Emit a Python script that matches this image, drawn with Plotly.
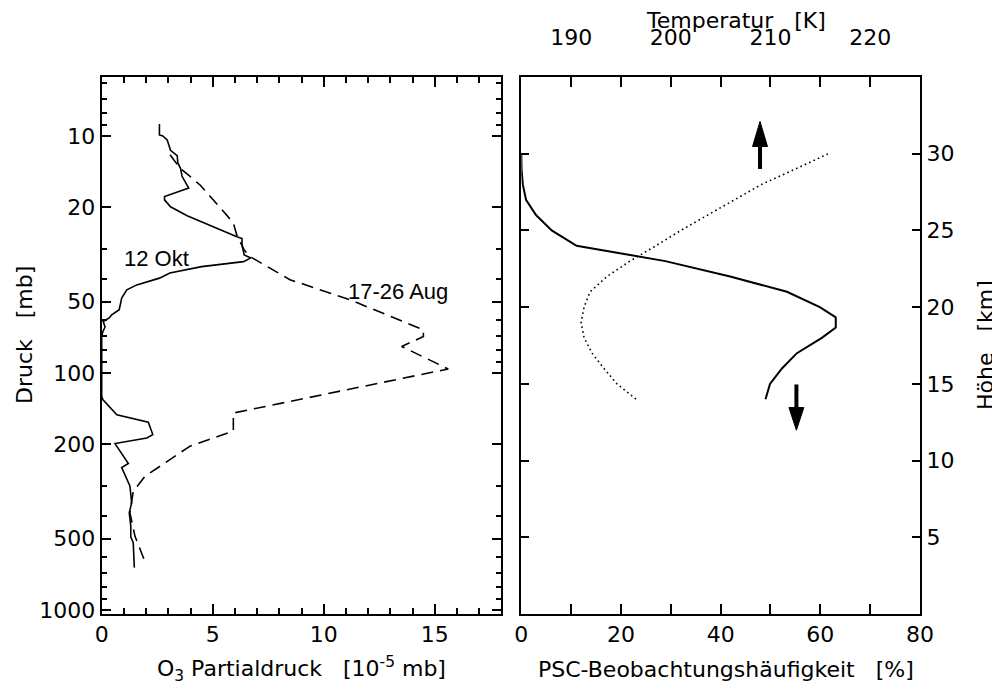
import numpy as np
import plotly.graph_objects as go

# ---------------- data ----------------
# Left panel: O3 partial pressure [1e-5 mb] versus pressure [mb]
okt_o3 = [2.6, 2.6, 2.75, 2.95, 3.1, 3.4, 3.43, 3.55, 3.62, 3.92,
          2.83, 2.83, 3.1, 3.85, 6.09, 6.32, 6.32, 6.42, 6.72, 6.39,
          4.5, 3.07, 2.6, 1.58, 1.13, 0.9, 0.79, 0.45, 0.35, 0.07,
          0.15, 0.05, 0.0, 0.0, 0.05, 0.68, 2.10, 2.30, 2.03, 0.6,
          1.2, 0.9, 1.27, 1.35, 1.24, 1.31, 1.31, 1.42, 1.47]
okt_p = [8.9, 9.9, 10.0, 10.4, 11.5, 12.1, 13.0, 13.7, 14.8, 16.6,
         18.0, 18.6, 19.9, 21.7, 26.6, 27.1, 28.8, 31.8, 32.7, 33.9,
         35.6, 37.9, 39.8, 42.5, 44.6, 48.3, 54.1, 56.8, 58.5, 60.7,
         64, 67, 70, 125, 129.6, 150, 161.5, 182, 188, 198.6,
         241, 251, 300, 353, 389, 443, 491, 520, 663]

aug_o3 = [3.08, 3.53, 3.9, 4.43, 5.48, 5.93, 6.08, 6.41, 6.68, 8.48,
          11.18, 14.49, 14.49, 13.51, 15.61, 5.93, 5.93, 3.98, 1.95, 1.42,
          1.27, 1.5, 1.91]
aug_p = [12.0, 13.7, 14.6, 16.1, 20.8, 23.3, 26.1, 30.2, 32.3, 40.4,
         49.1, 65.8, 70.2, 77.3, 96.2, 147.6, 176, 203.6, 273, 316,
         389, 489, 612]

# Right panel: PSC observation frequency [%] and temperature [K] versus height [km]
psc_height = [14, 15, 16, 17, 18, 18.67, 19.33, 20, 21, 22, 23, 24, 25, 26, 27, 28, 29, 30]
psc_freq = [49.0, 49.9, 52.3, 55.3, 60.3, 63.1, 63.1, 59.9, 53.3, 41.9,
            28.9, 11.1, 6.1, 2.95, 0.95, 0.3, 0.05, 0.0]

temp_height = [14, 15, 16, 17, 18, 19, 20, 21, 22, 23, 24, 25, 26, 27, 28, 29, 30]
temp_K = [196.5, 194.6, 193.3, 192.1, 191.3, 191.0, 191.3, 191.9, 193.6, 195.9,
          198.5, 201.0, 203.7, 206.4, 209.1, 212.5, 215.8]

p_ticks = [10, 20, 50, 100, 200, 500, 1000]
p_minor = [6, 7, 8, 9, 30, 40, 60, 70, 80, 90, 300, 400, 600, 700, 800, 900]
o3_ticks = [0, 5, 10, 15]
psc_ticks = [0, 20, 40, 60, 80]
temp_ticks = [190, 200, 210, 220]
height_ticks = [5, 10, 15, 20, 25, 30]

# ---------------- figure ----------------
AXFONT = "DejaVu Sans, Liberation Sans, Arial, sans-serif"
LABFONT = "Liberation Sans, Arial, sans-serif"
OFF = 8                      # page body margin of the html page
W, H = 1000 - OFF, 687 - OFF


def fx(px):                  # page pixel -> paper fraction (x)
    return (px - OFF) / W


def fy(py):                  # page pixel -> paper fraction (y)
    return 1 - (py - OFF) / H


fig = go.Figure()

fig.add_trace(go.Scatter(x=okt_o3, y=okt_p, mode="lines",
                         line=dict(color="black", width=1.6),
                         xaxis="x", yaxis="y", showlegend=False))
fig.add_trace(go.Scatter(x=aug_o3, y=aug_p, mode="lines",
                         line=dict(color="black", width=1.6, dash="12px,7px"),
                         xaxis="x", yaxis="y", showlegend=False))
fig.add_trace(go.Scatter(x=psc_freq, y=psc_height, mode="lines",
                         line=dict(color="black", width=2),
                         xaxis="x2", yaxis="y2", showlegend=False))
fig.add_trace(go.Scatter(x=temp_K, y=temp_height, mode="lines",
                         line=dict(color="black", width=1.6, dash="1.6px,3.2px"),
                         xaxis="x3", yaxis="y2", showlegend=False))

ydom = [fy(614), fy(77)]
tickfont = dict(family=AXFONT, size=22, color="black")
common = dict(showline=True, linecolor="black", linewidth=2, ticks="inside",
              tickcolor="black", tickwidth=1.6, showgrid=False, zeroline=False,
              tickfont=tickfont, automargin=False)

fig.update_layout(
    width=W, height=H,
    margin=dict(l=0, r=0, t=0, b=0, autoexpand=False),
    paper_bgcolor="white", plot_bgcolor="white",
    xaxis=dict(domain=[fx(101.7), fx(501.3)], range=[0, 18], anchor="y",
               tickmode="array", tickvals=o3_ticks, ticklen=10, mirror="ticks",
               minor=dict(dtick=1, ticks="inside", ticklen=6, tickcolor="black", tickwidth=1.6),
               **common),
    yaxis=dict(domain=ydom, type="log", range=[np.log10(1040), np.log10(5.64)], anchor="x",
               tickmode="array", tickvals=p_ticks, ticktext=[str(v) for v in p_ticks],
               ticklen=9, mirror="ticks",
               minor=dict(tickmode="array", tickvals=p_minor, ticks="inside", ticklen=5,
                          tickcolor="black", tickwidth=1.6),
               **common),
    xaxis2=dict(domain=[fx(521.3), fx(920)], range=[0, 80], anchor="y2",
                tickmode="array", tickvals=psc_ticks, ticklen=10,
                minor=dict(dtick=10, ticks="inside", ticklen=10, tickcolor="black", tickwidth=1.6),
                **common),
    xaxis3=dict(range=[185, 225], overlaying="x2", side="top", anchor="y2",
                tickmode="array", tickvals=temp_ticks, ticklen=10, ticklabelstandoff=21,
                minor=dict(dtick=5, ticks="inside", ticklen=10, tickcolor="black", tickwidth=1.6),
                **common),
    yaxis2=dict(domain=ydom, range=[0, 35], anchor="x2", side="right",
                tickmode="array", tickvals=height_ticks, ticklen=8, mirror="ticks",
                **common),
)

# arrows (up -> temperature axis on top, down -> PSC axis at bottom)
arrow_up = dict(x=47.9, tail=29.0, base=30.47, tip=32.1)
arrow_dn = dict(x=55.2, tail=14.96, base=13.46, tip=11.98)
half_w = 1.5
for a in (arrow_up, arrow_dn):
    fig.add_shape(type="line", xref="x2", yref="y2", x0=a["x"], x1=a["x"],
                  y0=a["tail"], y1=a["base"], line=dict(color="black", width=4))
    fig.add_shape(type="path", xref="x2", yref="y2",
                  path=f"M {a['x'] - half_w},{a['base']} L {a['x'] + half_w},{a['base']} "
                       f"L {a['x']},{a['tip']} Z",
                  fillcolor="black", line=dict(color="black", width=1))

lab_font = dict(family=LABFONT, size=22, color="black")
title_font = dict(family=AXFONT, size=22, color="black")
ann = dict(showarrow=False, xanchor="center", yanchor="middle")
fig.add_annotation(text="12 Okt", x=2.49, y=np.log10(33.0), xref="x", yref="y",
                   font=lab_font, **ann)
fig.add_annotation(text="17-26 Aug", x=13.35, y=np.log10(45.4), xref="x", yref="y",
                   font=lab_font, **ann)

fig.add_annotation(text="Druck\u00a0\u00a0\u00a0[mb]", x=fx(24), y=fy(335),
                   xref="paper", yref="paper", textangle=-90, font=title_font, **ann)
fig.add_annotation(text="H\u00f6he\u00a0\u00a0\u00a0[km]", x=fx(985), y=fy(345),
                   xref="paper", yref="paper", textangle=-90, font=title_font, **ann)
fig.add_annotation(text="O<sub>3</sub> Partialdruck\u00a0\u00a0\u00a0[10<sup>-5</sup> mb]",
                   x=fx(301), y=fy(669), xref="paper", yref="paper",
                   font=title_font, **ann)
fig.add_annotation(text="PSC-Beobachtungsh\u00e4ufigkeit\u00a0\u00a0\u00a0[%]",
                   x=fx(726), y=fy(669), xref="paper", yref="paper",
                   font=title_font, **ann)
fig.add_annotation(text="Temperatur\u00a0\u00a0\u00a0[K]",
                   x=fx(736), y=fy(20), xref="paper", yref="paper",
                   font=title_font, **ann)

fig.write_html("out.html")
